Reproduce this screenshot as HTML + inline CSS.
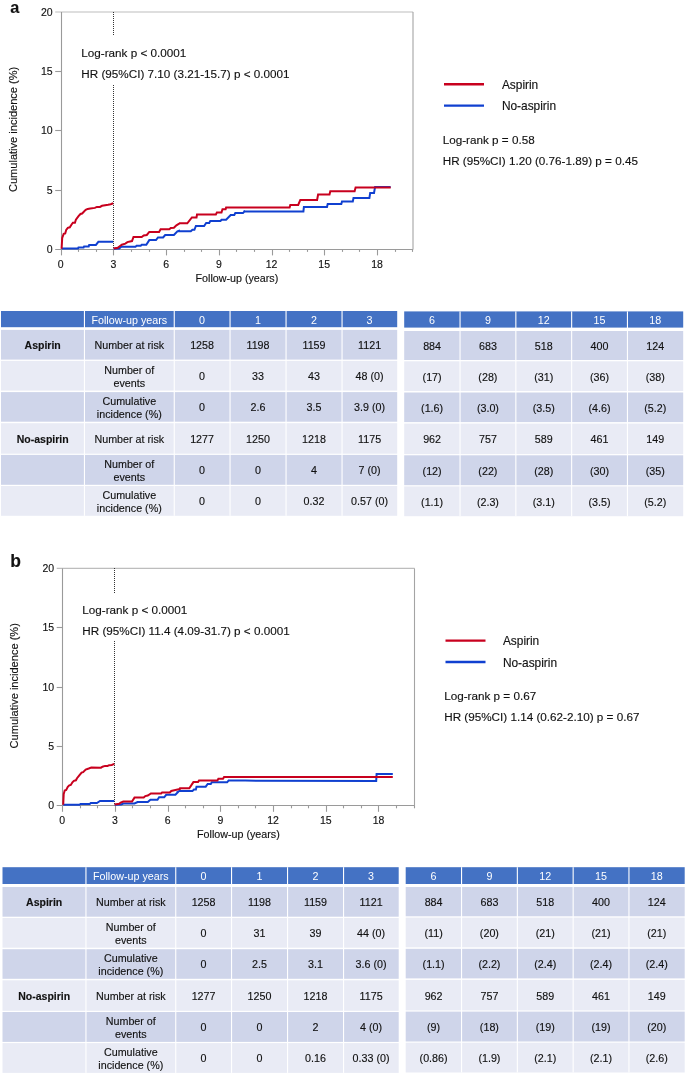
<!DOCTYPE html>
<html><head><meta charset="utf-8"><title>Cumulative incidence</title>
<style>
html,body{margin:0;padding:0;background:#fff;}
body{width:685px;height:1074px;overflow:hidden;position:relative;}
svg{position:absolute;left:0;top:0;font-family:"Liberation Sans", sans-serif;will-change:transform;}
text{fill:#111;stroke:#111;stroke-width:0.14px;}
text.w{stroke:none;}
text.w{fill:#fff;}
</style></head><body>
<svg width="685" height="1074" viewBox="0 0 685 1074">
<line x1="55.2" y1="12.0" x2="413.1" y2="12.0" stroke="#bdbdbd" stroke-width="1.1"/>
<line x1="413.0" y1="12.0" x2="413.0" y2="249.4" stroke="#a4a4a4" stroke-width="1.1"/>
<line x1="61.5" y1="12.0" x2="61.5" y2="255.4" stroke="#9a9a9a" stroke-width="1.1"/>
<line x1="55.2" y1="249.5" x2="413.1" y2="249.5" stroke="#9a9a9a" stroke-width="1.1"/>
<line x1="55.2" y1="190.5" x2="61.2" y2="190.5" stroke="#9a9a9a" stroke-width="1.1"/>
<line x1="55.2" y1="130.5" x2="61.2" y2="130.5" stroke="#9a9a9a" stroke-width="1.1"/>
<line x1="55.2" y1="71.5" x2="61.2" y2="71.5" stroke="#9a9a9a" stroke-width="1.1"/>
<line x1="78.5" y1="249.5" x2="78.5" y2="251.9" stroke="#9a9a9a" stroke-width="1.1"/>
<line x1="96.5" y1="249.5" x2="96.5" y2="251.9" stroke="#9a9a9a" stroke-width="1.1"/>
<line x1="113.5" y1="249.5" x2="113.5" y2="255.4" stroke="#9a9a9a" stroke-width="1.1"/>
<line x1="131.5" y1="249.5" x2="131.5" y2="251.9" stroke="#9a9a9a" stroke-width="1.1"/>
<line x1="149.5" y1="249.5" x2="149.5" y2="251.9" stroke="#9a9a9a" stroke-width="1.1"/>
<line x1="166.5" y1="249.5" x2="166.5" y2="255.4" stroke="#9a9a9a" stroke-width="1.1"/>
<line x1="184.5" y1="249.5" x2="184.5" y2="251.9" stroke="#9a9a9a" stroke-width="1.1"/>
<line x1="201.5" y1="249.5" x2="201.5" y2="251.9" stroke="#9a9a9a" stroke-width="1.1"/>
<line x1="219.5" y1="249.5" x2="219.5" y2="255.4" stroke="#9a9a9a" stroke-width="1.1"/>
<line x1="236.5" y1="249.5" x2="236.5" y2="251.9" stroke="#9a9a9a" stroke-width="1.1"/>
<line x1="254.5" y1="249.5" x2="254.5" y2="251.9" stroke="#9a9a9a" stroke-width="1.1"/>
<line x1="272.5" y1="249.5" x2="272.5" y2="255.4" stroke="#9a9a9a" stroke-width="1.1"/>
<line x1="289.5" y1="249.5" x2="289.5" y2="251.9" stroke="#9a9a9a" stroke-width="1.1"/>
<line x1="307.5" y1="249.5" x2="307.5" y2="251.9" stroke="#9a9a9a" stroke-width="1.1"/>
<line x1="324.5" y1="249.5" x2="324.5" y2="255.4" stroke="#9a9a9a" stroke-width="1.1"/>
<line x1="342.5" y1="249.5" x2="342.5" y2="251.9" stroke="#9a9a9a" stroke-width="1.1"/>
<line x1="359.5" y1="249.5" x2="359.5" y2="251.9" stroke="#9a9a9a" stroke-width="1.1"/>
<line x1="377.5" y1="249.5" x2="377.5" y2="255.4" stroke="#9a9a9a" stroke-width="1.1"/>
<line x1="395.5" y1="249.5" x2="395.5" y2="251.9" stroke="#9a9a9a" stroke-width="1.1"/>
<line x1="412.5" y1="249.5" x2="412.5" y2="251.9" stroke="#9a9a9a" stroke-width="1.1"/>
<text x="52.7" y="253.0" text-anchor="end" font-size="10.5">0</text>
<text x="52.7" y="193.7" text-anchor="end" font-size="10.5">5</text>
<text x="52.7" y="134.3" text-anchor="end" font-size="10.5">10</text>
<text x="52.7" y="74.9" text-anchor="end" font-size="10.5">15</text>
<text x="52.7" y="15.6" text-anchor="end" font-size="10.5">20</text>
<text x="60.7" y="267.5" text-anchor="middle" font-size="10.5">0</text>
<text x="113.4" y="267.5" text-anchor="middle" font-size="10.5">3</text>
<text x="166.1" y="267.5" text-anchor="middle" font-size="10.5">6</text>
<text x="218.8" y="267.5" text-anchor="middle" font-size="10.5">9</text>
<text x="271.5" y="267.5" text-anchor="middle" font-size="10.5">12</text>
<text x="324.2" y="267.5" text-anchor="middle" font-size="10.5">15</text>
<text x="377.0" y="267.5" text-anchor="middle" font-size="10.5">18</text>
<text x="236.9" y="281.6" text-anchor="middle" font-size="10.72">Follow-up (years)</text>
<text transform="translate(16.8,129.4) rotate(-90)" text-anchor="middle" font-size="11.05">Cumulative incidence (%)</text>
<line x1="113.5" y1="12" x2="113.5" y2="36" stroke="#333" stroke-width="1" stroke-dasharray="1 1"/>
<line x1="113.5" y1="85" x2="113.5" y2="249" stroke="#333" stroke-width="1" stroke-dasharray="1 1"/>
<path d="M61.6,248.5 L78.0,248.5 L78.5,247.4 L83.6,247.4 L84.1,246.4 L88.7,246.4 L89.2,244.9 L95.9,244.9 L98.4,241.8 L113.2,241.8" fill="none" stroke="#1040d0" stroke-width="2" stroke-linejoin="miter"/>
<path d="M113.6,248.8 L119.2,248.5 L121.2,246.7 L135.5,246.7 L136.6,245.7 L140.7,245.7 L141.7,244.7 L146.3,244.7 L149.3,240.1 L156.0,240.1 L158.0,237.5 L163.1,237.5 L165.2,235.0 L173.9,235.0 L177.4,231.4 L180.0,230.4 L178.6,231.3 L190.8,231.3 L192.4,229.8 L194.4,229.8 L195.9,226.0 L204.1,226.0 L206.2,222.9 L209.2,222.9 L210.3,220.9 L220.5,220.9 L221.5,219.8 L226.1,219.8 L230.7,215.0 L234.3,215.0 L235.3,213.1 L243.0,213.1 L245.0,210.9 L243.6,211.6 L303.4,211.6 L303.9,207.0 L310.0,207.0 L327.0,207.0 L327.7,204.1 L341.3,204.1 L342.0,201.4 L352.8,201.4 L353.5,198.0 L369.4,198.0 L370.2,192.9 L374.0,192.9 L375.1,186.9 L390.6,186.9" fill="none" stroke="#1040d0" stroke-width="2" stroke-linejoin="miter"/>
<path d="M61.6,248.8 L62.2,238.0 L63.7,233.9 L65.2,233.4 L66.2,229.9 L67.8,227.8 L69.8,227.3 L71.4,224.7 L72.9,222.7 L74.9,222.7 L75.9,219.6 L78.5,216.1 L80.5,214.0 L82.1,213.5 L85.7,209.9 L87.7,208.9 L90.3,208.4 L94.9,207.9 L96.9,206.9 L100.0,206.9 L102.0,205.8 L105.1,205.3 L108.1,204.8 L110.7,204.3 L113.2,203.3" fill="none" stroke="#c8001e" stroke-width="2" stroke-linejoin="miter"/>
<path d="M113.6,248.5 L117.7,247.7 L119.7,246.2 L121.8,244.7 L125.3,243.6 L127.4,242.1 L132.0,241.1 L133.5,237.0 L141.7,237.0 L143.7,235.5 L146.8,235.0 L149.3,231.9 L159.1,231.9 L160.6,229.3 L169.3,229.3 L170.8,228.0 L173.9,227.8 L176.4,225.3 L180.0,223.2 L179.1,223.3 L187.3,223.3 L191.9,217.5 L196.5,217.5 L197.0,214.5 L215.9,214.5 L216.9,212.4 L221.5,212.4 L222.5,209.3 L225.6,209.3 L226.1,207.6 L245.0,207.6 L289.6,207.5 L290.3,205.0 L298.2,205.0 L300.3,199.9 L310.0,199.9 L317.1,199.9 L318.1,194.5 L329.5,194.5 L330.3,191.2 L354.6,191.2 L355.6,187.4 L375.0,187.4 L390.7,187.5" fill="none" stroke="#c8001e" stroke-width="2" stroke-linejoin="miter"/>
<text x="81.3" y="57.0" font-size="11.7">Log-rank p &lt; 0.0001</text>
<text x="81.3" y="78.0" font-size="11.7">HR (95%CI) 7.10 (3.21-15.7) p &lt; 0.0001</text>
<text x="10.2" y="12.8" font-size="16.3" font-weight="700">a</text>
<line x1="444.0" y1="84.2" x2="484.0" y2="84.2" stroke="#c8001e" stroke-width="2.4"/>
<line x1="444.0" y1="105.6" x2="484.0" y2="105.6" stroke="#1040d0" stroke-width="2.4"/>
<text x="501.9" y="89.0" font-size="11.9">Aspirin</text>
<text x="501.9" y="110.3" font-size="11.9">No-aspirin</text>
<text x="442.7" y="143.8" font-size="11.7">Log-rank p = 0.58</text>
<text x="442.7" y="165.0" font-size="11.7">HR (95%CI) 1.20 (0.76-1.89) p = 0.45</text>
<line x1="56.7" y1="568.4" x2="414.6" y2="568.4" stroke="#bdbdbd" stroke-width="1.1"/>
<line x1="414.5" y1="568.4" x2="414.5" y2="805.8" stroke="#a4a4a4" stroke-width="1.1"/>
<line x1="62.5" y1="568.4" x2="62.5" y2="811.8" stroke="#9a9a9a" stroke-width="1.1"/>
<line x1="56.7" y1="805.5" x2="414.6" y2="805.5" stroke="#9a9a9a" stroke-width="1.1"/>
<line x1="56.7" y1="746.5" x2="62.7" y2="746.5" stroke="#9a9a9a" stroke-width="1.1"/>
<line x1="56.7" y1="687.5" x2="62.7" y2="687.5" stroke="#9a9a9a" stroke-width="1.1"/>
<line x1="56.7" y1="627.5" x2="62.7" y2="627.5" stroke="#9a9a9a" stroke-width="1.1"/>
<line x1="80.5" y1="805.5" x2="80.5" y2="808.3" stroke="#9a9a9a" stroke-width="1.1"/>
<line x1="97.5" y1="805.5" x2="97.5" y2="808.3" stroke="#9a9a9a" stroke-width="1.1"/>
<line x1="115.5" y1="805.5" x2="115.5" y2="811.8" stroke="#9a9a9a" stroke-width="1.1"/>
<line x1="132.5" y1="805.5" x2="132.5" y2="808.3" stroke="#9a9a9a" stroke-width="1.1"/>
<line x1="150.5" y1="805.5" x2="150.5" y2="808.3" stroke="#9a9a9a" stroke-width="1.1"/>
<line x1="168.5" y1="805.5" x2="168.5" y2="811.8" stroke="#9a9a9a" stroke-width="1.1"/>
<line x1="185.5" y1="805.5" x2="185.5" y2="808.3" stroke="#9a9a9a" stroke-width="1.1"/>
<line x1="203.5" y1="805.5" x2="203.5" y2="808.3" stroke="#9a9a9a" stroke-width="1.1"/>
<line x1="220.5" y1="805.5" x2="220.5" y2="811.8" stroke="#9a9a9a" stroke-width="1.1"/>
<line x1="238.5" y1="805.5" x2="238.5" y2="808.3" stroke="#9a9a9a" stroke-width="1.1"/>
<line x1="255.5" y1="805.5" x2="255.5" y2="808.3" stroke="#9a9a9a" stroke-width="1.1"/>
<line x1="273.5" y1="805.5" x2="273.5" y2="811.8" stroke="#9a9a9a" stroke-width="1.1"/>
<line x1="291.5" y1="805.5" x2="291.5" y2="808.3" stroke="#9a9a9a" stroke-width="1.1"/>
<line x1="308.5" y1="805.5" x2="308.5" y2="808.3" stroke="#9a9a9a" stroke-width="1.1"/>
<line x1="326.5" y1="805.5" x2="326.5" y2="811.8" stroke="#9a9a9a" stroke-width="1.1"/>
<line x1="343.5" y1="805.5" x2="343.5" y2="808.3" stroke="#9a9a9a" stroke-width="1.1"/>
<line x1="361.5" y1="805.5" x2="361.5" y2="808.3" stroke="#9a9a9a" stroke-width="1.1"/>
<line x1="378.5" y1="805.5" x2="378.5" y2="811.8" stroke="#9a9a9a" stroke-width="1.1"/>
<line x1="396.5" y1="805.5" x2="396.5" y2="808.3" stroke="#9a9a9a" stroke-width="1.1"/>
<line x1="414.5" y1="805.5" x2="414.5" y2="808.3" stroke="#9a9a9a" stroke-width="1.1"/>
<text x="54.2" y="809.4" text-anchor="end" font-size="10.5">0</text>
<text x="54.2" y="750.0" text-anchor="end" font-size="10.5">5</text>
<text x="54.2" y="690.7" text-anchor="end" font-size="10.5">10</text>
<text x="54.2" y="631.4" text-anchor="end" font-size="10.5">15</text>
<text x="54.2" y="572.0" text-anchor="end" font-size="10.5">20</text>
<text x="62.2" y="823.9" text-anchor="middle" font-size="10.5">0</text>
<text x="114.9" y="823.9" text-anchor="middle" font-size="10.5">3</text>
<text x="167.6" y="823.9" text-anchor="middle" font-size="10.5">6</text>
<text x="220.3" y="823.9" text-anchor="middle" font-size="10.5">9</text>
<text x="273.0" y="823.9" text-anchor="middle" font-size="10.5">12</text>
<text x="325.8" y="823.9" text-anchor="middle" font-size="10.5">15</text>
<text x="378.5" y="823.9" text-anchor="middle" font-size="10.5">18</text>
<text x="238.4" y="838.0" text-anchor="middle" font-size="10.72">Follow-up (years)</text>
<text transform="translate(18.3,685.8) rotate(-90)" text-anchor="middle" font-size="11.05">Cumulative incidence (%)</text>
<line x1="114.5" y1="568" x2="114.5" y2="593" stroke="#333" stroke-width="1" stroke-dasharray="1 1"/>
<line x1="114.5" y1="641" x2="114.5" y2="805" stroke="#333" stroke-width="1" stroke-dasharray="1 1"/>
<path d="M63.2,804.8 L79.5,804.8 L80.5,804.0 L89.7,804.0 L90.8,803.0 L96.9,803.0 L100.0,801.0 L114.3,801.0" fill="none" stroke="#1040d0" stroke-width="2" stroke-linejoin="miter"/>
<path d="M114.6,804.8 L121.2,804.5 L123.3,803.5 L134.5,803.5 L137.6,802.0 L147.8,802.0 L150.4,799.7 L157.5,799.7 L159.1,797.3 L164.2,797.3 L166.2,794.8 L175.4,794.8 L178.5,791.5 L180.0,790.5 L179.1,791.1 L192.4,791.1 L193.9,789.5 L195.9,789.5 L196.5,786.7 L205.7,786.7 L207.7,784.0 L210.8,784.0 L211.8,782.3 L227.1,782.3 L228.6,780.6 L245.0,780.6 L376.2,781.0 L376.6,774.1 L392.8,774.1" fill="none" stroke="#1040d0" stroke-width="2" stroke-linejoin="miter"/>
<path d="M63.2,804.8 L63.7,794.1 L64.7,790.5 L66.2,790.0 L67.8,786.9 L69.3,785.4 L70.8,784.9 L72.4,782.3 L73.9,780.8 L75.9,780.3 L77.0,778.2 L79.5,775.1 L81.6,772.6 L83.1,772.1 L85.7,769.5 L88.7,768.5 L91.3,767.5 L101.0,767.7 L102.5,766.7 L105.1,765.9 L107.6,765.9 L109.2,765.2 L111.7,764.9 L114.3,763.9" fill="none" stroke="#c8001e" stroke-width="2" stroke-linejoin="miter"/>
<path d="M114.6,804.5 L119.2,803.8 L120.7,802.5 L123.3,801.5 L132.0,801.5 L134.5,797.6 L143.7,797.6 L145.3,796.1 L147.8,795.6 L150.9,793.5 L161.1,793.5 L162.1,792.5 L169.8,792.5 L171.3,791.0 L175.4,790.0 L180.0,788.9 L180.1,788.2 L189.3,788.2 L193.4,782.1 L198.0,782.1 L199.0,780.6 L217.4,780.6 L218.4,778.8 L223.0,778.8 L224.1,777.0 L245.0,777.0 L392.8,777.0" fill="none" stroke="#c8001e" stroke-width="2" stroke-linejoin="miter"/>
<text x="82.3" y="613.6" font-size="11.7">Log-rank p &lt; 0.0001</text>
<text x="82.3" y="634.6" font-size="11.7">HR (95%CI) 11.4 (4.09-31.7) p &lt; 0.0001</text>
<text x="10.2" y="566.8" font-size="17.5" font-weight="700">b</text>
<line x1="445.5" y1="640.6" x2="485.5" y2="640.6" stroke="#c8001e" stroke-width="2.4"/>
<line x1="445.5" y1="662.0" x2="485.5" y2="662.0" stroke="#1040d0" stroke-width="2.4"/>
<text x="502.9" y="645.4" font-size="11.9">Aspirin</text>
<text x="502.9" y="666.7" font-size="11.9">No-aspirin</text>
<text x="444.2" y="700.2" font-size="11.7">Log-rank p = 0.67</text>
<text x="444.2" y="721.4" font-size="11.7">HR (95%CI) 1.14 (0.62-2.10) p = 0.67</text>
<rect x="1.0" y="311.0" width="396.2" height="16.2" fill="#4472c4"/>
<rect x="1.0" y="329.9" width="396.2" height="29.7" fill="#cfd5ea"/>
<rect x="1.0" y="360.9" width="396.2" height="29.7" fill="#e9ebf5"/>
<rect x="1.0" y="392.1" width="396.2" height="29.6" fill="#cfd5ea"/>
<rect x="1.0" y="423.2" width="396.2" height="30.5" fill="#e9ebf5"/>
<rect x="1.0" y="454.9" width="396.2" height="29.9" fill="#cfd5ea"/>
<rect x="1.0" y="486.0" width="396.2" height="29.8" fill="#e9ebf5"/>
<rect x="83.9" y="311.0" width="1.1" height="204.8" fill="#fff"/>
<rect x="173.7" y="311.0" width="1.1" height="204.8" fill="#fff"/>
<rect x="229.5" y="311.0" width="1.1" height="204.8" fill="#fff"/>
<rect x="285.5" y="311.0" width="1.1" height="204.8" fill="#fff"/>
<rect x="341.5" y="311.0" width="1.1" height="204.8" fill="#fff"/>
<text x="129.3" y="323.7" text-anchor="middle" font-size="10.72" class="w">Follow-up years</text>
<text x="202.1" y="323.7" text-anchor="middle" font-size="10.72" class="w">0</text>
<text x="258.0" y="323.7" text-anchor="middle" font-size="10.72" class="w">1</text>
<text x="314.0" y="323.7" text-anchor="middle" font-size="10.72" class="w">2</text>
<text x="369.6" y="323.7" text-anchor="middle" font-size="10.72" class="w">3</text>
<text x="42.7" y="349.1" text-anchor="middle" font-size="10.5" font-weight="700">Aspirin</text>
<text x="129.3" y="349.1" text-anchor="middle" font-size="10.72">Number at risk</text>
<text x="202.1" y="349.1" text-anchor="middle" font-size="10.72">1258</text>
<text x="258.0" y="349.1" text-anchor="middle" font-size="10.72">1198</text>
<text x="314.0" y="349.1" text-anchor="middle" font-size="10.72">1159</text>
<text x="369.6" y="349.1" text-anchor="middle" font-size="10.72">1121</text>
<text x="129.3" y="373.8" text-anchor="middle" font-size="10.72">Number of</text>
<text x="129.3" y="386.6" text-anchor="middle" font-size="10.72">events</text>
<text x="202.1" y="380.1" text-anchor="middle" font-size="10.72">0</text>
<text x="258.0" y="380.1" text-anchor="middle" font-size="10.72">33</text>
<text x="314.0" y="380.1" text-anchor="middle" font-size="10.72">43</text>
<text x="369.6" y="380.1" text-anchor="middle" font-size="10.72">48 (0)</text>
<text x="129.3" y="404.9" text-anchor="middle" font-size="10.72">Cumulative</text>
<text x="129.3" y="417.8" text-anchor="middle" font-size="10.72">incidence (%)</text>
<text x="202.1" y="411.3" text-anchor="middle" font-size="10.72">0</text>
<text x="258.0" y="411.3" text-anchor="middle" font-size="10.72">2.6</text>
<text x="314.0" y="411.3" text-anchor="middle" font-size="10.72">3.5</text>
<text x="369.6" y="411.3" text-anchor="middle" font-size="10.72">3.9 (0)</text>
<text x="42.7" y="442.8" text-anchor="middle" font-size="10.5" font-weight="700">No-aspirin</text>
<text x="129.3" y="442.8" text-anchor="middle" font-size="10.72">Number at risk</text>
<text x="202.1" y="442.8" text-anchor="middle" font-size="10.72">1277</text>
<text x="258.0" y="442.8" text-anchor="middle" font-size="10.72">1250</text>
<text x="314.0" y="442.8" text-anchor="middle" font-size="10.72">1218</text>
<text x="369.6" y="442.8" text-anchor="middle" font-size="10.72">1175</text>
<text x="129.3" y="467.9" text-anchor="middle" font-size="10.72">Number of</text>
<text x="129.3" y="480.8" text-anchor="middle" font-size="10.72">events</text>
<text x="202.1" y="474.2" text-anchor="middle" font-size="10.72">0</text>
<text x="258.0" y="474.2" text-anchor="middle" font-size="10.72">0</text>
<text x="314.0" y="474.2" text-anchor="middle" font-size="10.72">4</text>
<text x="369.6" y="474.2" text-anchor="middle" font-size="10.72">7 (0)</text>
<text x="129.3" y="498.9" text-anchor="middle" font-size="10.72">Cumulative</text>
<text x="129.3" y="511.8" text-anchor="middle" font-size="10.72">incidence (%)</text>
<text x="202.1" y="505.3" text-anchor="middle" font-size="10.72">0</text>
<text x="258.0" y="505.3" text-anchor="middle" font-size="10.72">0</text>
<text x="314.0" y="505.3" text-anchor="middle" font-size="10.72">0.32</text>
<text x="369.6" y="505.3" text-anchor="middle" font-size="10.72">0.57 (0)</text>
<rect x="404.2" y="311.4" width="279.0" height="16.2" fill="#4472c4"/>
<rect x="404.2" y="331.0" width="279.0" height="29.0" fill="#cfd5ea"/>
<rect x="404.2" y="361.3" width="279.0" height="29.7" fill="#e9ebf5"/>
<rect x="404.2" y="392.5" width="279.0" height="29.6" fill="#cfd5ea"/>
<rect x="404.2" y="423.6" width="279.0" height="30.5" fill="#e9ebf5"/>
<rect x="404.2" y="455.3" width="279.0" height="29.9" fill="#cfd5ea"/>
<rect x="404.2" y="486.4" width="279.0" height="29.8" fill="#e9ebf5"/>
<rect x="459.5" y="311.4" width="1.1" height="204.8" fill="#fff"/>
<rect x="515.3" y="311.4" width="1.1" height="204.8" fill="#fff"/>
<rect x="571.1" y="311.4" width="1.1" height="204.8" fill="#fff"/>
<rect x="626.9" y="311.4" width="1.1" height="204.8" fill="#fff"/>
<text x="432.1" y="324.1" text-anchor="middle" font-size="10.72" class="w">6</text>
<text x="487.9" y="324.1" text-anchor="middle" font-size="10.72" class="w">9</text>
<text x="543.7" y="324.1" text-anchor="middle" font-size="10.72" class="w">12</text>
<text x="599.5" y="324.1" text-anchor="middle" font-size="10.72" class="w">15</text>
<text x="655.3" y="324.1" text-anchor="middle" font-size="10.72" class="w">18</text>
<text x="432.1" y="349.5" text-anchor="middle" font-size="10.72">884</text>
<text x="487.9" y="349.5" text-anchor="middle" font-size="10.72">683</text>
<text x="543.7" y="349.5" text-anchor="middle" font-size="10.72">518</text>
<text x="599.5" y="349.5" text-anchor="middle" font-size="10.72">400</text>
<text x="655.3" y="349.5" text-anchor="middle" font-size="10.72">124</text>
<text x="432.1" y="380.5" text-anchor="middle" font-size="10.72">(17)</text>
<text x="487.9" y="380.5" text-anchor="middle" font-size="10.72">(28)</text>
<text x="543.7" y="380.5" text-anchor="middle" font-size="10.72">(31)</text>
<text x="599.5" y="380.5" text-anchor="middle" font-size="10.72">(36)</text>
<text x="655.3" y="380.5" text-anchor="middle" font-size="10.72">(38)</text>
<text x="432.1" y="411.7" text-anchor="middle" font-size="10.72">(1.6)</text>
<text x="487.9" y="411.7" text-anchor="middle" font-size="10.72">(3.0)</text>
<text x="543.7" y="411.7" text-anchor="middle" font-size="10.72">(3.5)</text>
<text x="599.5" y="411.7" text-anchor="middle" font-size="10.72">(4.6)</text>
<text x="655.3" y="411.7" text-anchor="middle" font-size="10.72">(5.2)</text>
<text x="432.1" y="443.2" text-anchor="middle" font-size="10.72">962</text>
<text x="487.9" y="443.2" text-anchor="middle" font-size="10.72">757</text>
<text x="543.7" y="443.2" text-anchor="middle" font-size="10.72">589</text>
<text x="599.5" y="443.2" text-anchor="middle" font-size="10.72">461</text>
<text x="655.3" y="443.2" text-anchor="middle" font-size="10.72">149</text>
<text x="432.1" y="474.6" text-anchor="middle" font-size="10.72">(12)</text>
<text x="487.9" y="474.6" text-anchor="middle" font-size="10.72">(22)</text>
<text x="543.7" y="474.6" text-anchor="middle" font-size="10.72">(28)</text>
<text x="599.5" y="474.6" text-anchor="middle" font-size="10.72">(30)</text>
<text x="655.3" y="474.6" text-anchor="middle" font-size="10.72">(35)</text>
<text x="432.1" y="505.7" text-anchor="middle" font-size="10.72">(1.1)</text>
<text x="487.9" y="505.7" text-anchor="middle" font-size="10.72">(2.3)</text>
<text x="543.7" y="505.7" text-anchor="middle" font-size="10.72">(3.1)</text>
<text x="599.5" y="505.7" text-anchor="middle" font-size="10.72">(3.5)</text>
<text x="655.3" y="505.7" text-anchor="middle" font-size="10.72">(5.2)</text>
<rect x="2.5" y="867.2" width="396.2" height="16.8" fill="#4472c4"/>
<rect x="2.5" y="887.0" width="396.2" height="29.7" fill="#cfd5ea"/>
<rect x="2.5" y="918.0" width="396.2" height="29.7" fill="#e9ebf5"/>
<rect x="2.5" y="949.2" width="396.2" height="29.6" fill="#cfd5ea"/>
<rect x="2.5" y="980.3" width="396.2" height="30.5" fill="#e9ebf5"/>
<rect x="2.5" y="1012.0" width="396.2" height="29.9" fill="#cfd5ea"/>
<rect x="2.5" y="1043.1" width="396.2" height="29.8" fill="#e9ebf5"/>
<rect x="85.4" y="867.2" width="1.1" height="205.7" fill="#fff"/>
<rect x="175.2" y="867.2" width="1.1" height="205.7" fill="#fff"/>
<rect x="231.0" y="867.2" width="1.1" height="205.7" fill="#fff"/>
<rect x="287.0" y="867.2" width="1.1" height="205.7" fill="#fff"/>
<rect x="343.0" y="867.2" width="1.1" height="205.7" fill="#fff"/>
<text x="130.8" y="880.2" text-anchor="middle" font-size="10.72" class="w">Follow-up years</text>
<text x="203.6" y="880.2" text-anchor="middle" font-size="10.72" class="w">0</text>
<text x="259.5" y="880.2" text-anchor="middle" font-size="10.72" class="w">1</text>
<text x="315.5" y="880.2" text-anchor="middle" font-size="10.72" class="w">2</text>
<text x="371.1" y="880.2" text-anchor="middle" font-size="10.72" class="w">3</text>
<text x="44.2" y="906.2" text-anchor="middle" font-size="10.5" font-weight="700">Aspirin</text>
<text x="130.8" y="906.2" text-anchor="middle" font-size="10.72">Number at risk</text>
<text x="203.6" y="906.2" text-anchor="middle" font-size="10.72">1258</text>
<text x="259.5" y="906.2" text-anchor="middle" font-size="10.72">1198</text>
<text x="315.5" y="906.2" text-anchor="middle" font-size="10.72">1159</text>
<text x="371.1" y="906.2" text-anchor="middle" font-size="10.72">1121</text>
<text x="130.8" y="930.9" text-anchor="middle" font-size="10.72">Number of</text>
<text x="130.8" y="943.8" text-anchor="middle" font-size="10.72">events</text>
<text x="203.6" y="937.2" text-anchor="middle" font-size="10.72">0</text>
<text x="259.5" y="937.2" text-anchor="middle" font-size="10.72">31</text>
<text x="315.5" y="937.2" text-anchor="middle" font-size="10.72">39</text>
<text x="371.1" y="937.2" text-anchor="middle" font-size="10.72">44 (0)</text>
<text x="130.8" y="962.0" text-anchor="middle" font-size="10.72">Cumulative</text>
<text x="130.8" y="974.9" text-anchor="middle" font-size="10.72">incidence (%)</text>
<text x="203.6" y="968.4" text-anchor="middle" font-size="10.72">0</text>
<text x="259.5" y="968.4" text-anchor="middle" font-size="10.72">2.5</text>
<text x="315.5" y="968.4" text-anchor="middle" font-size="10.72">3.1</text>
<text x="371.1" y="968.4" text-anchor="middle" font-size="10.72">3.6 (0)</text>
<text x="44.2" y="1000.0" text-anchor="middle" font-size="10.5" font-weight="700">No-aspirin</text>
<text x="130.8" y="1000.0" text-anchor="middle" font-size="10.72">Number at risk</text>
<text x="203.6" y="1000.0" text-anchor="middle" font-size="10.72">1277</text>
<text x="259.5" y="1000.0" text-anchor="middle" font-size="10.72">1250</text>
<text x="315.5" y="1000.0" text-anchor="middle" font-size="10.72">1218</text>
<text x="371.1" y="1000.0" text-anchor="middle" font-size="10.72">1175</text>
<text x="130.8" y="1024.9" text-anchor="middle" font-size="10.72">Number of</text>
<text x="130.8" y="1037.8" text-anchor="middle" font-size="10.72">events</text>
<text x="203.6" y="1031.3" text-anchor="middle" font-size="10.72">0</text>
<text x="259.5" y="1031.3" text-anchor="middle" font-size="10.72">0</text>
<text x="315.5" y="1031.3" text-anchor="middle" font-size="10.72">2</text>
<text x="371.1" y="1031.3" text-anchor="middle" font-size="10.72">4 (0)</text>
<text x="130.8" y="1056.0" text-anchor="middle" font-size="10.72">Cumulative</text>
<text x="130.8" y="1068.9" text-anchor="middle" font-size="10.72">incidence (%)</text>
<text x="203.6" y="1062.4" text-anchor="middle" font-size="10.72">0</text>
<text x="259.5" y="1062.4" text-anchor="middle" font-size="10.72">0</text>
<text x="315.5" y="1062.4" text-anchor="middle" font-size="10.72">0.16</text>
<text x="371.1" y="1062.4" text-anchor="middle" font-size="10.72">0.33 (0)</text>
<rect x="405.7" y="867.2" width="279.0" height="16.8" fill="#4472c4"/>
<rect x="405.7" y="887.0" width="279.0" height="29.3" fill="#cfd5ea"/>
<rect x="405.7" y="917.6" width="279.0" height="29.7" fill="#e9ebf5"/>
<rect x="405.7" y="948.8" width="279.0" height="29.6" fill="#cfd5ea"/>
<rect x="405.7" y="979.9" width="279.0" height="30.5" fill="#e9ebf5"/>
<rect x="405.7" y="1011.6" width="279.0" height="29.9" fill="#cfd5ea"/>
<rect x="405.7" y="1042.7" width="279.0" height="29.8" fill="#e9ebf5"/>
<rect x="461.0" y="867.2" width="1.1" height="205.3" fill="#fff"/>
<rect x="516.8" y="867.2" width="1.1" height="205.3" fill="#fff"/>
<rect x="572.6" y="867.2" width="1.1" height="205.3" fill="#fff"/>
<rect x="628.4" y="867.2" width="1.1" height="205.3" fill="#fff"/>
<text x="433.6" y="880.2" text-anchor="middle" font-size="10.72" class="w">6</text>
<text x="489.4" y="880.2" text-anchor="middle" font-size="10.72" class="w">9</text>
<text x="545.2" y="880.2" text-anchor="middle" font-size="10.72" class="w">12</text>
<text x="601.0" y="880.2" text-anchor="middle" font-size="10.72" class="w">15</text>
<text x="656.8" y="880.2" text-anchor="middle" font-size="10.72" class="w">18</text>
<text x="433.6" y="905.9" text-anchor="middle" font-size="10.72">884</text>
<text x="489.4" y="905.9" text-anchor="middle" font-size="10.72">683</text>
<text x="545.2" y="905.9" text-anchor="middle" font-size="10.72">518</text>
<text x="601.0" y="905.9" text-anchor="middle" font-size="10.72">400</text>
<text x="656.8" y="905.9" text-anchor="middle" font-size="10.72">124</text>
<text x="433.6" y="936.9" text-anchor="middle" font-size="10.72">(11)</text>
<text x="489.4" y="936.9" text-anchor="middle" font-size="10.72">(20)</text>
<text x="545.2" y="936.9" text-anchor="middle" font-size="10.72">(21)</text>
<text x="601.0" y="936.9" text-anchor="middle" font-size="10.72">(21)</text>
<text x="656.8" y="936.9" text-anchor="middle" font-size="10.72">(21)</text>
<text x="433.6" y="968.0" text-anchor="middle" font-size="10.72">(1.1)</text>
<text x="489.4" y="968.0" text-anchor="middle" font-size="10.72">(2.2)</text>
<text x="545.2" y="968.0" text-anchor="middle" font-size="10.72">(2.4)</text>
<text x="601.0" y="968.0" text-anchor="middle" font-size="10.72">(2.4)</text>
<text x="656.8" y="968.0" text-anchor="middle" font-size="10.72">(2.4)</text>
<text x="433.6" y="999.6" text-anchor="middle" font-size="10.72">962</text>
<text x="489.4" y="999.6" text-anchor="middle" font-size="10.72">757</text>
<text x="545.2" y="999.6" text-anchor="middle" font-size="10.72">589</text>
<text x="601.0" y="999.6" text-anchor="middle" font-size="10.72">461</text>
<text x="656.8" y="999.6" text-anchor="middle" font-size="10.72">149</text>
<text x="433.6" y="1031.0" text-anchor="middle" font-size="10.72">(9)</text>
<text x="489.4" y="1031.0" text-anchor="middle" font-size="10.72">(18)</text>
<text x="545.2" y="1031.0" text-anchor="middle" font-size="10.72">(19)</text>
<text x="601.0" y="1031.0" text-anchor="middle" font-size="10.72">(19)</text>
<text x="656.8" y="1031.0" text-anchor="middle" font-size="10.72">(20)</text>
<text x="433.6" y="1062.0" text-anchor="middle" font-size="10.72">(0.86)</text>
<text x="489.4" y="1062.0" text-anchor="middle" font-size="10.72">(1.9)</text>
<text x="545.2" y="1062.0" text-anchor="middle" font-size="10.72">(2.1)</text>
<text x="601.0" y="1062.0" text-anchor="middle" font-size="10.72">(2.1)</text>
<text x="656.8" y="1062.0" text-anchor="middle" font-size="10.72">(2.6)</text>
</svg>
</body></html>
